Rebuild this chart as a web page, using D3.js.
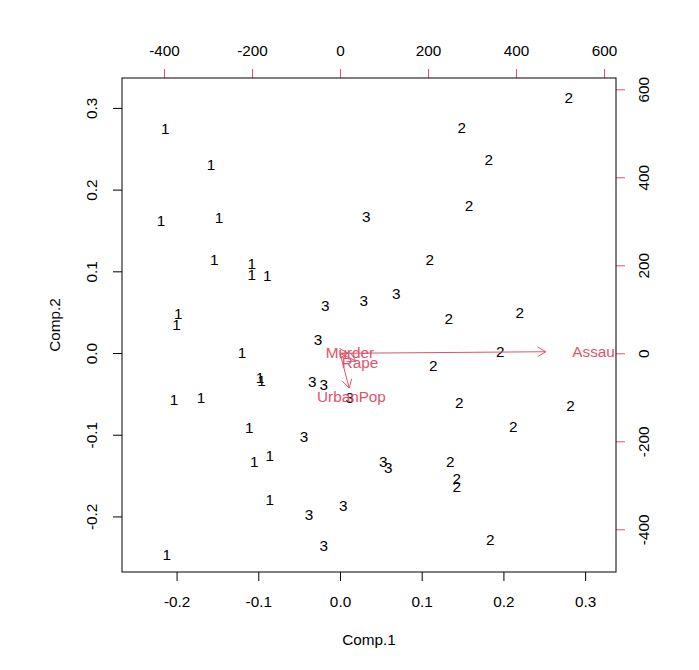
<!DOCTYPE html>
<html>
<head>
<meta charset="utf-8">
<script src="https://cdn.jsdelivr.net/npm/d3@7"></script>
<style>
  body { margin: 0; background: #fff; }
  text { font-family: "Liberation Sans", Arial, sans-serif; font-size: 15.3px; }
</style>
</head>
<body>
<div id="chart"></div>
<script>
// scores on Comp.1 / Comp.2, one array per cluster
const cluster1 = [
  [-0.214, 0.275], [-0.158, 0.231], [-0.219, 0.162], [-0.148, 0.166], [-0.154, 0.114],
  [-0.108, 0.109], [-0.108, 0.096], [-0.089, 0.095], [-0.198, 0.048], [-0.200, 0.035],
  [-0.120, 0.000], [-0.098, -0.030], [-0.096, -0.034], [-0.203, -0.057], [-0.170, -0.054],
  [-0.111, -0.091], [-0.105, -0.133], [-0.086, -0.126], [-0.086, -0.180], [-0.212, -0.247]
];
const cluster2 = [
  [0.280, 0.313], [0.149, 0.276], [0.182, 0.237], [0.158, 0.180], [0.110, 0.114],
  [0.133, 0.042], [0.220, 0.049], [0.196, 0.002], [0.114, -0.016], [0.146, -0.061],
  [0.282, -0.065], [0.212, -0.090], [0.135, -0.133], [0.143, -0.154], [0.143, -0.164],
  [0.184, -0.229]
];
const cluster3 = [
  [0.032, 0.167], [-0.018, 0.058], [0.029, 0.064], [0.069, 0.073], [-0.027, 0.016],
  [-0.034, -0.035], [-0.020, -0.039], [0.012, -0.055], [-0.044, -0.102], [0.053, -0.133],
  [0.059, -0.140], [0.004, -0.187], [-0.038, -0.198], [-0.020, -0.236]
];

// variable loadings (top / right axis units)
const varNames = ["Murder", "Assault", "UrbanPop", "Rape"];
const varComp1 = [22.7, 585, 26, 45.5];
const varComp2 = [0.7, 4.5, -98.6, -22];

const bottomTicks = [-0.2, -0.1, 0.0, 0.1, 0.2, 0.3];
const leftTicks = [-0.2, -0.1, 0.0, 0.1, 0.2, 0.3];
const topTicks = [-400, -200, 0, 200, 400, 600];
const rightTicks = [-400, -200, 0, 200, 400, 600];

const width = 699, height = 670;
const L = 122, R = 616, T = 78, B = 572;
const red = "#DF536B";

const svg = d3.select("#chart").append("svg")
    .attr("width", width)
    .attr("height", height)
    .style("background", "#fff");

const x = d3.scaleLinear().domain([-0.2668, 0.3378]).range([L, R]);
const y = d3.scaleLinear().domain([-0.2680, 0.3366]).range([B, T]);
const x2 = d3.scaleLinear().domain([-495.5, 627.3]).range([L, R]);
const y2 = d3.scaleLinear().domain([-497, 625.7]).range([B, T]);

svg.append("defs").append("clipPath").attr("id", "plotclip")
  .append("rect").attr("x", L).attr("y", T).attr("width", R - L).attr("height", B - T);

// bottom axis
const gb = svg.append("g").attr("transform", `translate(0,${B})`)
    .call(d3.axisBottom(x).tickValues(bottomTicks).tickSize(9).tickSizeOuter(0)
      .tickFormat(d => d.toFixed(1)));
gb.select(".domain").remove();
gb.selectAll("text").attr("y", 30).attr("dy", "0.35em").attr("fill", "#000");
gb.selectAll("line").attr("stroke", "#000");

// left axis
const gl = svg.append("g").attr("transform", `translate(${L},0)`)
    .call(d3.axisLeft(y).tickValues(leftTicks).tickSize(9).tickSizeOuter(0)
      .tickFormat(d => d.toFixed(1)));
gl.select(".domain").remove();
gl.selectAll("text").attr("x", null).attr("dy", "0.35em")
  .attr("text-anchor", "middle").attr("transform", "translate(-30,0) rotate(-90)")
  .attr("fill", "#000");
gl.selectAll("line").attr("stroke", "#000");

// top axis
const gt = svg.append("g").attr("transform", `translate(0,${T})`)
    .call(d3.axisTop(x2).tickValues(topTicks).tickSize(9).tickSizeOuter(0)
      .tickFormat(d => String(d)));
gt.select(".domain").remove();
gt.selectAll("text").attr("y", -27).attr("dy", "0.35em").attr("fill", "#000");
gt.selectAll("line").attr("stroke", red);

// right axis
const gr = svg.append("g").attr("transform", `translate(${R},0)`)
    .call(d3.axisRight(y2).tickValues(rightTicks).tickSize(9).tickSizeOuter(0)
      .tickFormat(d => String(d)));
gr.select(".domain").remove();
gr.selectAll("text").attr("x", null).attr("dy", "0.35em")
  .attr("text-anchor", "middle").attr("transform", "translate(28,0) rotate(-90)")
  .attr("fill", "#000");
gr.selectAll("line").attr("stroke", red);

// box
svg.append("rect")
    .attr("x", L).attr("y", T)
    .attr("width", R - L).attr("height", B - T)
    .attr("fill", "none").attr("stroke", "#000").attr("stroke-width", 1);

// axis titles
svg.append("text").attr("x", (L + R) / 2).attr("y", 640).attr("dy", "0.35em")
  .attr("text-anchor", "middle").text("Comp.1");
svg.append("text").attr("transform", `translate(55,${(T + B) / 2}) rotate(-90)`)
  .attr("dy", "0.35em").attr("text-anchor", "middle").text("Comp.2");

// observation labels (cluster number)
const plot = svg.append("g").attr("clip-path", "url(#plotclip)");
[cluster1, cluster2, cluster3].forEach((pts, i) => {
  plot.selectAll(`text.c${i + 1}`)
    .data(pts)
    .enter().append("text")
    .attr("class", `c${i + 1}`)
    .attr("x", d => x(d[0]))
    .attr("y", d => y(d[1]))
    .attr("dy", "0.35em")
    .attr("text-anchor", "middle")
    .attr("fill", "#000")
    .text(i + 1);
});

// variable arrows, tip at 0.8 of the label position
const vars = varNames.map((n, i) => ({ name: n, c1: varComp1[i], c2: varComp2[i] }));
const headLen = 9.6, headAng = Math.PI / 6;
vars.forEach(v => {
  const x0 = x2(0), y0 = y2(0);
  const x1 = x2(v.c1 * 0.8), y1 = y2(v.c2 * 0.8);
  const a = Math.atan2(y1 - y0, x1 - x0);
  plot.append("line")
    .attr("x1", x0).attr("y1", y0).attr("x2", x1).attr("y2", y1)
    .attr("stroke", red).attr("stroke-width", 1);
  const p = d3.path();
  p.moveTo(x1 - headLen * Math.cos(a - headAng), y1 - headLen * Math.sin(a - headAng));
  p.lineTo(x1, y1);
  p.lineTo(x1 - headLen * Math.cos(a + headAng), y1 - headLen * Math.sin(a + headAng));
  plot.append("path").attr("d", p.toString())
    .attr("fill", "none").attr("stroke", red).attr("stroke-width", 1);
});

plot.selectAll("text.var")
  .data(vars)
  .enter().append("text")
  .attr("class", "var")
  .attr("x", d => x2(d.c1))
  .attr("y", d => y2(d.c2))
  .attr("dy", "0.35em")
  .attr("text-anchor", "middle")
  .attr("fill", red)
  .text(d => d.name);
</script>
</body>
</html>
